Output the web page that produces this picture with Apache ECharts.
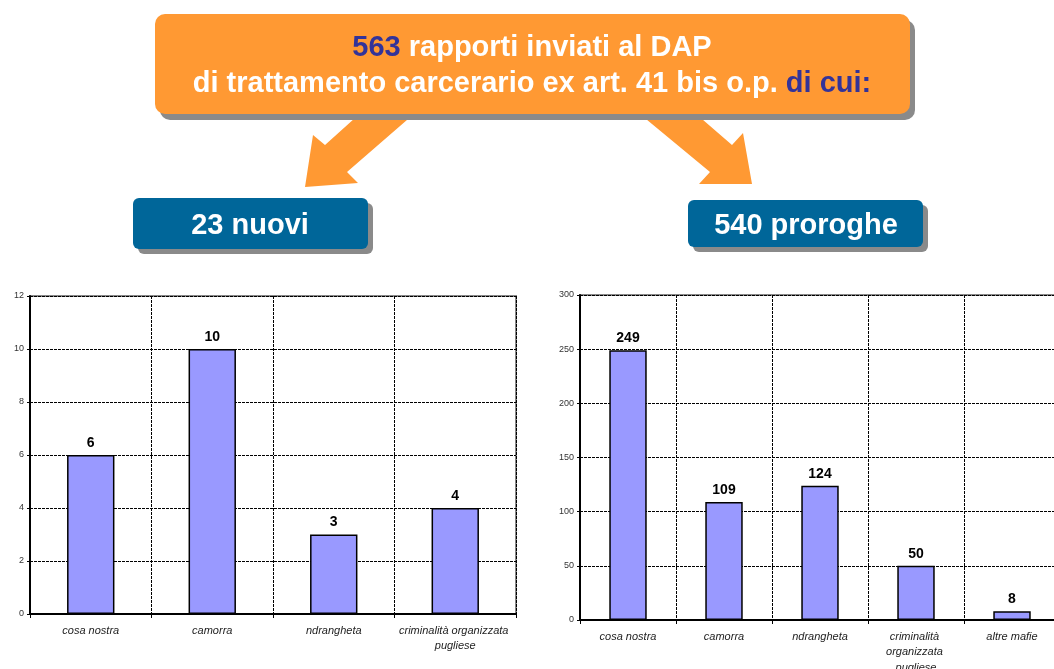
<!DOCTYPE html>
<html>
<head>
<meta charset="utf-8">
<script src="https://cdn.jsdelivr.net/npm/echarts@6/dist/echarts.min.js"></script>
<style>
html, body { margin: 0; padding: 0; background: #fff; }
#main { width: 1054px; height: 669px; }
</style>
</head>
<body>
<div id="main"></div>
<script>
// dati dei due grafici
const nuoviCategories = ['cosa nostra', 'camorra', 'ndrangheta', 'criminalità organizzata pugliese'];
const nuoviValues = [6, 10, 3, 4];
const nuoviTicks = [0, 12, 2]; // min, max, interval

const prorogheCategories = ['cosa nostra', 'camorra', 'ndrangheta', 'criminalità organizzata pugliese', 'altre mafie'];
const prorogheValues = [249, 109, 124, 50, 8];
const prorogheTicks = [0, 300, 50];

const titleLine1 = ['563', ' rapporti inviati al DAP'];
const titleLine2 = ['di trattamento carcerario ex art. 41 bis o.p. ', 'di cui:'];
const boxLabels = ['23 nuovi', '540 proroghe'];

const FONT = '"Liberation Sans", Arial, sans-serif';
const ORANGE = '#FF9933';
const BLUE = '#006699';
const SHADOW = '#8a8a8a';
const NAVY = '#333399';

const myChart = echarts.init(document.getElementById('main'), null, { renderer: 'canvas' });

function xAxisFor(gridIndex, cats, labelWidth) {
  return {
    type: 'category',
    gridIndex: gridIndex,
    data: cats,
    axisLine: { lineStyle: { color: '#000', width: 2 } },
    axisTick: { show: true, length: 4, lineStyle: { color: '#000', width: 1 } },
    axisLabel: {
      interval: 0,
      fontFamily: FONT,
      fontStyle: 'italic',
      fontSize: 11,
      color: '#222',
      margin: 9,
      width: labelWidth,
      overflow: 'break',
      lineHeight: 15.5,
    },
    splitLine: { show: true, lineStyle: { color: '#000', type: [3, 1], width: 1 } },
  };
}

function yAxisFor(gridIndex, ticks) {
  return {
    type: 'value',
    gridIndex: gridIndex,
    min: ticks[0],
    max: ticks[1],
    interval: ticks[2],
    axisLine: { show: true, lineStyle: { color: '#000', width: 2 } },
    axisTick: { show: true, length: 3, lineStyle: { color: '#000', width: 1 } },
    axisLabel: { fontFamily: FONT, fontSize: 9, color: '#333', margin: 6 },
    splitLine: { show: true, lineStyle: { color: '#000', type: [3, 1], width: 1 } },
  };
}

function barSeries(axisIndex, values) {
  return {
    type: 'bar',
    xAxisIndex: axisIndex,
    yAxisIndex: axisIndex,
    data: values,
    barWidth: '39%',
    itemStyle: { color: '#9999FF', borderColor: '#000', borderWidth: 1.5 },
    label: {
      show: true,
      position: 'top',
      distance: 5,
      fontFamily: FONT,
      fontWeight: 'bold',
      fontSize: 14,
      color: '#000',
    },
  };
}

const option = {
  animation: false,
  backgroundColor: '#fff',
  grid: [
    { left: 30, top: 296, width: 486, bottom: 55, outerBoundsMode: 'none', containLabel: false, show: true, borderColor: '#888', borderWidth: 2, backgroundColor: 'transparent' },
    { left: 580, top: 295, width: 480, bottom: 49, outerBoundsMode: 'none', containLabel: false, show: true, borderColor: '#888', borderWidth: 2, backgroundColor: 'transparent' },
  ],
  xAxis: [
    xAxisFor(0, nuoviCategories, 118),
    xAxisFor(1, prorogheCategories, 88),
  ],
  yAxis: [
    yAxisFor(0, nuoviTicks),
    yAxisFor(1, prorogheTicks),
  ],
  series: [
    barSeries(0, nuoviValues),
    barSeries(1, prorogheValues),
  ],
  graphic: [
    // frecce
    {
      type: 'polygon', z: 1,
      shape: { points: [[375, 100], [430, 100], [347, 172], [358, 183], [305, 187], [313, 135], [325, 145]] },
      style: { fill: ORANGE },
    },
    {
      type: 'polygon', z: 1,
      shape: { points: [[623, 100], [680, 100], [732, 145], [743, 133], [752, 184], [699, 184], [710, 172]] },
      style: { fill: ORANGE },
    },
    // riquadro arancione
    { type: 'rect', z: 2, shape: { x: 160, y: 20, width: 755, height: 100, r: 10 }, style: { fill: SHADOW } },
    { type: 'rect', z: 3, shape: { x: 155, y: 14, width: 755, height: 100, r: 10 }, style: { fill: ORANGE } },
    {
      type: 'text', z: 4, x: 532, y: 48,
      style: {
        text: '{n|' + titleLine1[0] + '}{w|' + titleLine1[1] + '}',
        align: 'center', verticalAlign: 'middle',
        rich: {
          n: { fill: NAVY, fontFamily: FONT, fontWeight: 'bold', fontSize: 29 },
          w: { fill: '#fff', fontFamily: FONT, fontWeight: 'bold', fontSize: 29 },
        },
      },
    },
    {
      type: 'text', z: 4, x: 532, y: 84,
      style: {
        text: '{w|' + titleLine2[0] + '}{n|' + titleLine2[1] + '}',
        align: 'center', verticalAlign: 'middle',
        rich: {
          n: { fill: NAVY, fontFamily: FONT, fontWeight: 'bold', fontSize: 29 },
          w: { fill: '#fff', fontFamily: FONT, fontWeight: 'bold', fontSize: 29 },
        },
      },
    },
    // riquadri blu
    { type: 'rect', z: 2, shape: { x: 138, y: 203, width: 235, height: 51, r: 6 }, style: { fill: SHADOW } },
    { type: 'rect', z: 3, shape: { x: 133, y: 198, width: 235, height: 51, r: 6 }, style: { fill: BLUE } },
    {
      type: 'text', z: 4, x: 250, y: 226,
      style: { text: boxLabels[0], fill: '#fff', fontFamily: FONT, fontWeight: 'bold', fontSize: 29, align: 'center', verticalAlign: 'middle' },
    },
    { type: 'rect', z: 2, shape: { x: 693, y: 205, width: 235, height: 47, r: 6 }, style: { fill: SHADOW } },
    { type: 'rect', z: 3, shape: { x: 688, y: 200, width: 235, height: 47, r: 6 }, style: { fill: BLUE } },
    {
      type: 'text', z: 4, x: 806, y: 226,
      style: { text: boxLabels[1], fill: '#fff', fontFamily: FONT, fontWeight: 'bold', fontSize: 29, align: 'center', verticalAlign: 'middle' },
    },
  ],
};

myChart.setOption(option);
</script>
</body>
</html>
